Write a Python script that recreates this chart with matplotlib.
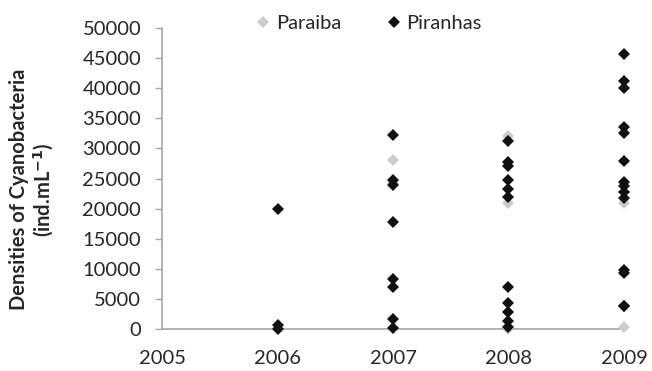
import matplotlib

matplotlib.use("Agg")
import matplotlib.pyplot as plt  # noqa: E402

# values
years_par = [2006, 2007, 2007, 2008, 2008, 2008, 2009, 2009]
dens_par = [100, 28000, 24300, 32000, 21000, 0, 21000, 300]

years_pir = (
    [2006] * 3
    + [2007] * 8
    + [2008] * 11
    + [2009] * 14
)
dens_pir = (
    [20000, 600, 0]
    + [32300, 24800, 24000, 17800, 8300, 7000, 1600, 200]
    + [31300, 27700, 27000, 24700, 23300, 22000, 7000, 4400, 2900, 1400, 400]
    + [45700, 41200, 40000, 33500, 32500, 27900, 24500, 23700, 22800, 21800,
       9800, 9300, 3800, 3800]
)

x_ticks = [2005, 2006, 2007, 2008, 2009]
y_ticks = list(range(0, 50001, 5000))

plt.rcParams["font.family"] = ["Lato", "DejaVu Sans"]

AXIS = "#a6a6a6"
TEXT = "#262626"
MS = 6.6

fig = plt.figure(figsize=(6.52, 3.71), dpi=100)
ax = fig.add_axes([0.2485, 0.1132, 0.7085, 0.8113])

ax.plot(years_par, dens_par, "D", color="#cccccc", markersize=MS,
        markeredgewidth=0, label="Paraiba", clip_on=False, zorder=3)
ax.plot(years_pir, dens_pir, "D", color="#111111", markersize=MS,
        markeredgewidth=0, label="Piranhas", clip_on=False, zorder=4)

ax.set_xlim(2005, 2009)
ax.set_ylim(0, 50000)
ax.set_xticks(x_ticks)
ax.set_yticks(y_ticks)
ax.tick_params(axis="x", length=0, pad=15, labelsize=14.5, colors=TEXT)
ax.tick_params(axis="y", length=5, width=1, color=AXIS, pad=10,
               labelsize=14.5, labelcolor=TEXT)
for side in ("top", "right"):
    ax.spines[side].set_visible(False)
for side in ("left", "bottom"):
    ax.spines[side].set_color(AXIS)
    ax.spines[side].set_linewidth(1.2)

fig.text(0.05, 0.49, "Densities of Cyanobacteria\n(ind.mL$^{\\mathbf{-1}}$)",
         rotation=90, ha="center", va="center", multialignment="center",
         fontsize=14.5, fontweight="bold", color=TEXT, linespacing=1.1)

fig.legend(loc="center", bbox_to_anchor=(0.565, 0.938), ncol=2, frameon=False,
           fontsize=14.5, handletextpad=0.25, columnspacing=2.2,
           handlelength=0.8, labelcolor=TEXT)

fig.savefig("out.png", dpi=100)
